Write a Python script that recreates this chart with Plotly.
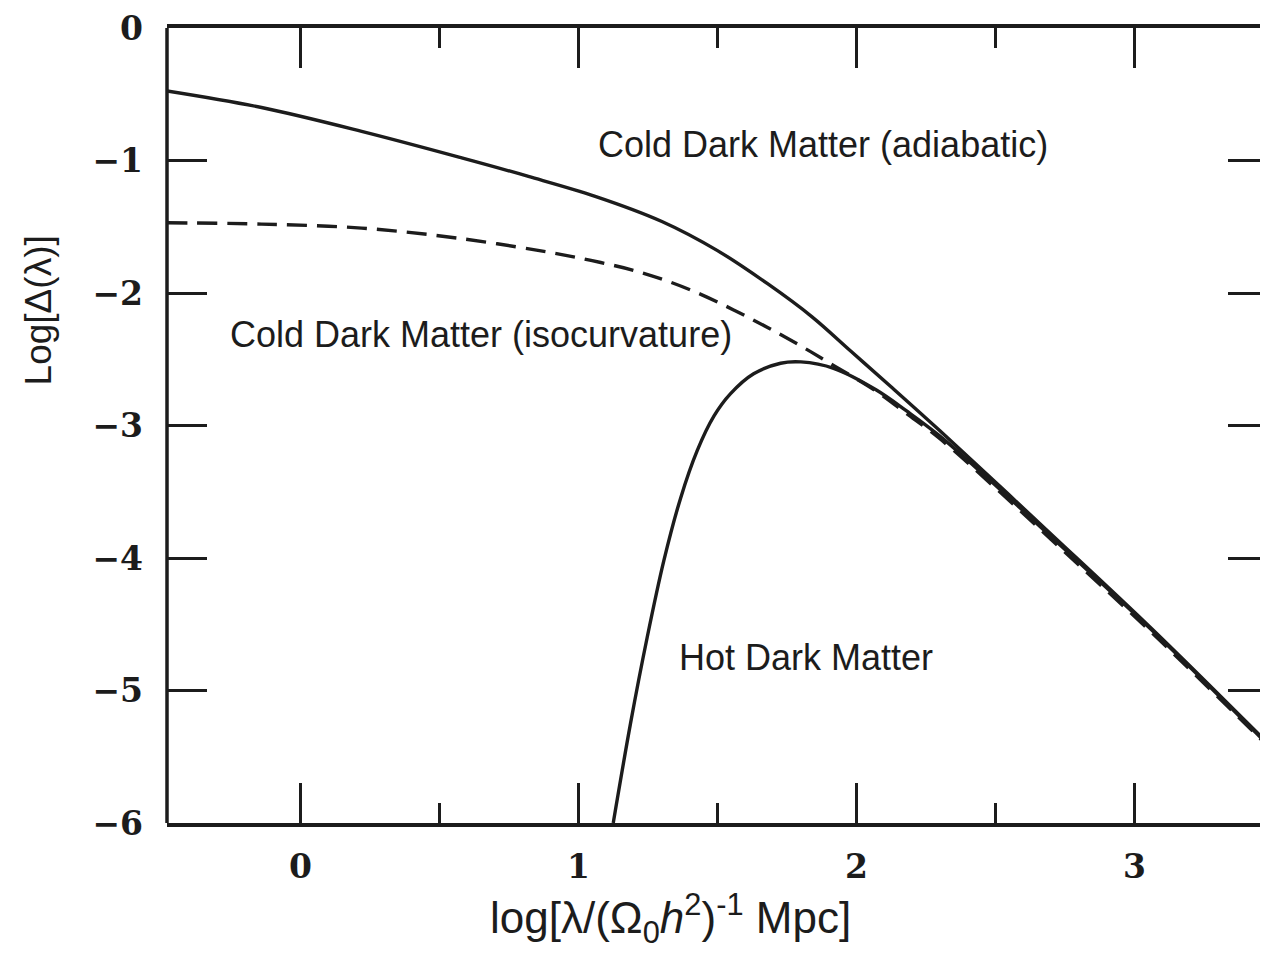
import plotly.graph_objects as go

# ---- data ----
cdm_adiabatic_x = [-0.48, -0.14, 0.22, 0.58, 0.82, 1.06, 1.30, 1.50, 1.68, 1.84, 1.98, 2.12, 2.30, 2.70, 3.06, 3.48]
cdm_adiabatic_y = [-0.475, -0.60, -0.78, -0.98, -1.12, -1.27, -1.46, -1.68, -1.93, -2.18, -2.44, -2.70, -3.04, -3.82, -4.53, -5.40]

cdm_iso_x = [-0.48, -0.14, 0.22, 0.58, 0.94, 1.08, 1.20, 1.32, 1.44, 1.56, 1.68, 1.80, 1.92, 2.07, 2.18, 2.30, 2.52, 2.70, 3.06, 3.48]
cdm_iso_y = [-1.47, -1.48, -1.51, -1.59, -1.71, -1.77, -1.83, -1.91, -2.01, -2.13, -2.26, -2.40, -2.55, -2.74, -2.91, -3.10, -3.51, -3.86, -4.56, -5.42]

hdm_x = [1.125, 1.187, 1.247, 1.307, 1.367, 1.427, 1.487, 1.547, 1.63, 1.727, 1.80, 1.92, 2.07, 2.18, 2.30, 2.52, 2.70, 3.06, 3.48]
hdm_y = [-6.0, -5.25, -4.60, -4.02, -3.55, -3.19, -2.93, -2.76, -2.61, -2.53, -2.52, -2.57, -2.73, -2.89, -3.08, -3.49, -3.84, -4.54, -5.41]

x_tick_vals = [0, 1, 2, 3]
x_tick_text = ["0", "1", "2", "3"]
y_tick_vals = [0, -1, -2, -3, -4, -5, -6]
y_tick_text = ["0", "\u22121", "\u22122", "\u22123", "\u22124", "\u22125", "\u22126"]

labels = ["Cold Dark Matter (adiabatic)", "Cold Dark Matter (isocurvature)", "Hot Dark Matter"]
label_x = [1.88, 0.65, 1.82]
label_y = [-0.88, -2.31, -4.75]

INK = "#1c1c1c"
LW = 3.4

fig = go.Figure()
fig.add_trace(go.Scatter(x=cdm_adiabatic_x, y=cdm_adiabatic_y, mode="lines",
                         line=dict(color=INK, width=LW, shape="spline", smoothing=1.0)))
fig.add_trace(go.Scatter(x=cdm_iso_x, y=cdm_iso_y, mode="lines",
                         line=dict(color=INK, width=LW, dash="20px,10px", shape="spline", smoothing=1.0)))
fig.add_trace(go.Scatter(x=hdm_x, y=hdm_y, mode="lines",
                         line=dict(color=INK, width=LW, shape="spline", smoothing=1.0)))

for t, lx, ly in zip(labels, label_x, label_y):
    fig.add_annotation(x=lx, y=ly, xref="x", yref="y", text=t, showarrow=False,
                       xanchor="center", yanchor="middle",
                       font=dict(family="Liberation Sans, Arial", size=36, color=INK))

# axis titles
fig.add_annotation(x=1.33, y=-0.162, xref="x", yref="paper", xanchor="center", yanchor="bottom",
                   text="log[\u03bb/(\u03a9<sub>0</sub><i>h</i><sup>2</sup>)<sup>-1</sup> Mpc]",
                   showarrow=False, font=dict(family="Liberation Sans, Arial", size=44, color=INK))
fig.add_annotation(x=-0.117, y=0.645, xref="paper", yref="paper", textangle=-90,
                   xanchor="center", yanchor="middle",
                   text="Log[\u0394(\u03bb)]", showarrow=False,
                   font=dict(family="Liberation Sans, Arial", size=37, color=INK))

# left frame line (the right one lies outside the picture)
fig.add_shape(type="line", xref="paper", yref="paper", x0=0, x1=0, y0=0, y1=1,
              line=dict(color=INK, width=3.5))

tickfont = dict(family="DejaVu Serif", size=33, color=INK, weight="bold")

fig.update_xaxes(range=[-0.48, 3.48], showgrid=False, zeroline=False,
                 showline=True, linecolor=INK, linewidth=3.5, mirror="ticks",
                 ticks="inside", ticklen=40, tickwidth=3, tickcolor=INK,
                 tickvals=x_tick_vals, ticktext=x_tick_text, tickfont=tickfont,
                 ticklabelstandoff=12,
                 minor=dict(dtick=0.5, tick0=0, ticks="inside", ticklen=20, tickwidth=3, tickcolor=INK))
fig.update_yaxes(range=[-6, 0], showgrid=False, zeroline=False,
                 showline=False, mirror="ticks",
                 ticks="inside", ticklen=40, tickwidth=3, tickcolor=INK,
                 tickvals=y_tick_vals, ticktext=y_tick_text, tickfont=tickfont,
                 ticklabelstandoff=23)

# page body has an 8px margin: size the figure so that it fits the 1268x959 window
fig.update_layout(width=1260, height=943, showlegend=False,
                  paper_bgcolor="white", plot_bgcolor="white",
                  margin=dict(l=159, r=0, t=20, b=128))

fig.write_html("out.html")
